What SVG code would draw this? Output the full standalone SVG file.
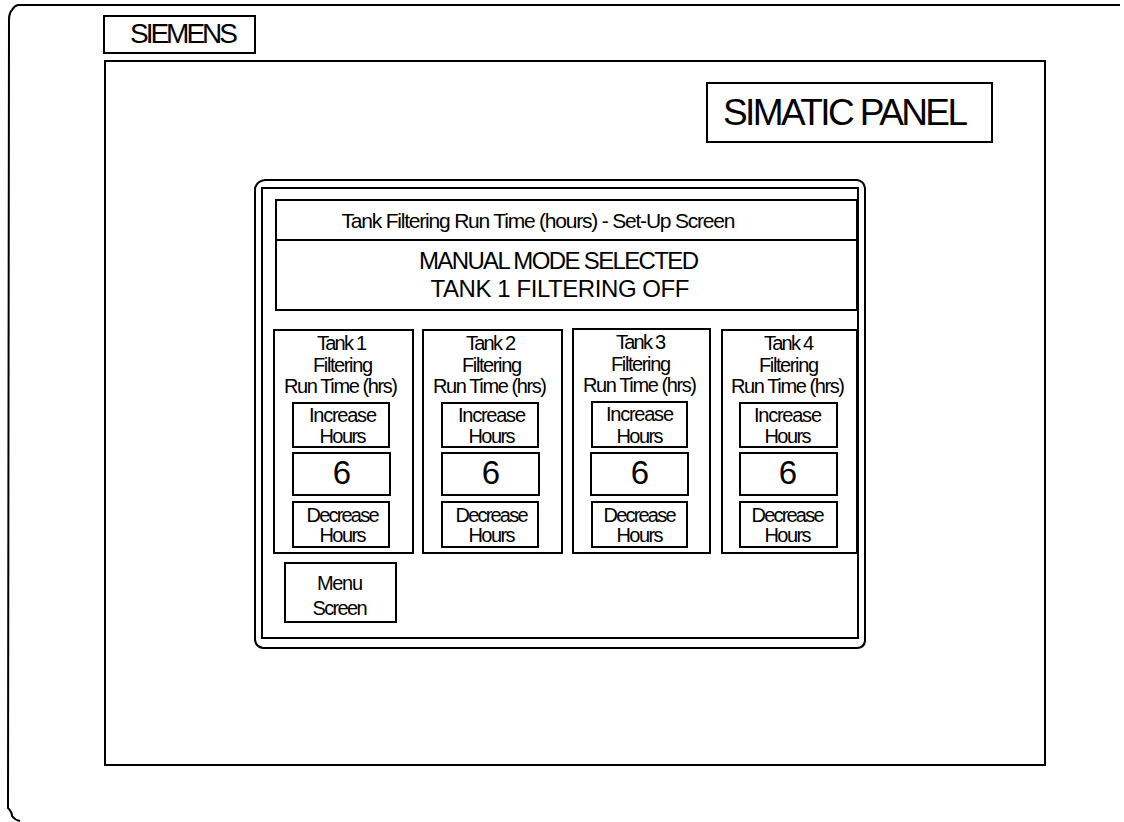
<svg xmlns="http://www.w3.org/2000/svg" width="1124" height="822" viewBox="0 0 1124 822">
<style>
.ln{fill:none;stroke:#000;stroke-width:2}
.bx{fill:#fff;stroke:#000;stroke-width:2}
text{font-family:"Liberation Sans",Arial,sans-serif;fill:#000;text-anchor:middle}
.s{font-size:20px}
.v{font-size:33px}
</style>
<rect width="1124" height="822" fill="#fff"/>
<g id="frame">
<path class="ln" d="M1120,5 L18,5 Q14,6 12,10 Q9,13 9,20 L8,808 Q12,812 12,816 Q15,820 20,821"/>
</g>
<g id="siemens">
<rect class="bx" x="104" y="16" width="151" height="37"/>
<text x="184" y="43" style="font-size:28px" textLength="108">SIEMENS</text>
</g>
<g id="display">
<rect class="ln" x="105" y="61" width="940" height="704"/>
</g>
<g id="simatic">
<rect class="bx" x="707" y="83" width="285" height="59"/>
<text x="845.5" y="125" style="font-size:37px" textLength="245">SIMATIC PANEL</text>
</g>
<g id="screen">
<path class="ln" d="M265,180 L857,180 Q864,181 865,188 L865,641 Q864,648 857,648 L263,648 Q256,647 255,640 L255,188 Q257,181 265,180 Z"/>
<rect class="ln" x="262" y="188" width="596" height="450"/>
</g>
<g id="title">
<rect class="bx" x="276" y="200" width="581" height="40"/>
<text x="538.5" y="228" style="font-size:21px" textLength="394">Tank Filtering Run Time (hours) - Set-Up Screen</text>
</g>
<g id="message">
<rect class="bx" x="276" y="240" width="581" height="70"/>
<text x="559" y="269" style="font-size:24px" textLength="280">MANUAL MODE SELECTED</text>
<text x="560" y="297" style="font-size:24px" textLength="259">TANK 1 FILTERING OFF</text>
</g>
<g id="tank1">
<rect class="bx" x="274" y="330" width="139" height="223"/>
<text class="s" x="342" y="350" textLength="50">Tank 1</text>
<text class="s" x="343" y="372" textLength="60">Filtering</text>
<text class="s" x="341" y="393" textLength="114">Run Time (hrs)</text>
<rect class="bx" x="293" y="403" width="96" height="44"/>
<text class="s" x="343" y="422" textLength="68">Increase</text>
<text class="s" x="343" y="443" textLength="47">Hours</text>
<rect class="bx" x="293" y="453" width="97" height="42"/>
<text class="v" x="342" y="484">6</text>
<rect class="bx" x="293" y="502" width="96" height="45"/>
<text class="s" x="343" y="522" textLength="73">Decrease</text>
<text class="s" x="343" y="542" textLength="47">Hours</text>
</g>
<g id="tank2">
<rect class="bx" x="423" y="330" width="139" height="223"/>
<text class="s" x="491" y="350" textLength="50">Tank 2</text>
<text class="s" x="492" y="372" textLength="60">Filtering</text>
<text class="s" x="490" y="393" textLength="114">Run Time (hrs)</text>
<rect class="bx" x="442" y="403" width="96" height="44"/>
<text class="s" x="492" y="422" textLength="68">Increase</text>
<text class="s" x="492" y="443" textLength="47">Hours</text>
<rect class="bx" x="442" y="453" width="97" height="42"/>
<text class="v" x="491" y="484">6</text>
<rect class="bx" x="442" y="502" width="96" height="45"/>
<text class="s" x="492" y="522" textLength="73">Decrease</text>
<text class="s" x="492" y="542" textLength="47">Hours</text>
</g>
<g id="tank3">
<rect class="bx" x="573" y="329" width="137" height="224"/>
<text class="s" x="641" y="349" textLength="50">Tank 3</text>
<text class="s" x="641" y="371" textLength="60">Filtering</text>
<text class="s" x="640" y="392" textLength="114">Run Time (hrs)</text>
<rect class="bx" x="592" y="402" width="95" height="45"/>
<text class="s" x="640" y="421" textLength="68">Increase</text>
<text class="s" x="640" y="443" textLength="47">Hours</text>
<rect class="bx" x="591" y="453" width="97" height="42"/>
<text class="v" x="640" y="484">6</text>
<rect class="bx" x="592" y="502" width="95" height="45"/>
<text class="s" x="640" y="522" textLength="73">Decrease</text>
<text class="s" x="640" y="542" textLength="47">Hours</text>
</g>
<g id="tank4">
<rect class="bx" x="722" y="330" width="135" height="223"/>
<text class="s" x="789" y="350" textLength="50">Tank 4</text>
<text class="s" x="789" y="372" textLength="60">Filtering</text>
<text class="s" x="788" y="393" textLength="114">Run Time (hrs)</text>
<rect class="bx" x="740" y="403" width="97" height="44"/>
<text class="s" x="788" y="422" textLength="68">Increase</text>
<text class="s" x="788" y="443" textLength="47">Hours</text>
<rect class="bx" x="740" y="453" width="97" height="42"/>
<text class="v" x="788" y="484">6</text>
<rect class="bx" x="740" y="502" width="97" height="45"/>
<text class="s" x="788" y="522" textLength="73">Decrease</text>
<text class="s" x="788" y="542" textLength="47">Hours</text>
</g>
<g id="menu">
<rect class="bx" x="285" y="563" width="111" height="59"/>
<text class="s" x="340" y="590" textLength="46">Menu</text>
<text class="s" x="340" y="615" textLength="55">Screen</text>
</g>
<g id="connectors"></g>
</svg>
